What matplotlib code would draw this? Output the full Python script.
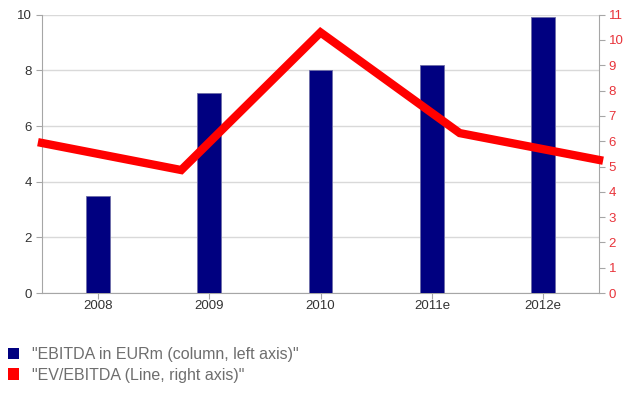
import matplotlib
matplotlib.use("Agg")
import matplotlib.pyplot as plt
from matplotlib.patches import Patch
import numpy as np

plt.rcParams['font.family'] = ['Liberation Sans', 'DejaVu Sans']

categories = ["2008", "2009", "2010", "2011e", "2012e"]
ebitda = [3.5, 7.2, 8.0, 8.2, 9.9]
ev_ebitda = [5.93, 4.86, 10.3, 6.32, 5.26]
left_ticks = [0, 2, 4, 6, 8, 10]
right_ticks = list(range(0, 12))

navy = "#000080"
red = "#FF0000"
gray = "#A6A6A6"

fig = plt.figure(figsize=(6.37, 3.93), dpi=100)
pos = [42/637, 1-293/393, (599-42)/637, (293-14.7)/393]
ax = fig.add_axes(pos)
x = np.arange(len(categories))
ax.bar(x, ebitda, width=0.215, color=navy, edgecolor="#6E6EA8", linewidth=0.6, zorder=3)
ax.set_xlim(-0.5, len(categories)-0.5)
ax.set_ylim(0, 10)
ax.set_yticks(left_ticks)
ax.set_xticks(x)
ax.set_xticklabels(categories)
ax.grid(axis='y', color="#D9D9D9", linewidth=1, zorder=0)
for s in ['top']:
    ax.spines[s].set_visible(False)
for s in ['left', 'bottom', 'right']:
    ax.spines[s].set_color(gray)
ax.tick_params(axis='both', colors=gray, labelcolor="#333333", labelsize=9.5, length=4, width=0.8)
ax.tick_params(axis='x', pad=1)

ax2 = fig.add_axes(pos, frameon=False)
ax2.plot(np.arange(len(ev_ebitda)), ev_ebitda, color=red, linewidth=6, solid_joinstyle='miter', zorder=4, clip_on=False)
ax2.set_xlim(0, len(ev_ebitda)-1)
ax2.set_ylim(0, 11)
ax2.set_yticks(right_ticks)
ax2.set_xticks([])
ax2.yaxis.tick_right()
ax2.tick_params(axis='y', colors=gray, labelcolor="#E8333A", labelsize=9.5, length=4, width=0.8, pad=3)

handles = [Patch(facecolor=navy, edgecolor='none'), Patch(facecolor=red, edgecolor='none')]
labels = ['"EBITDA in EURm (column, left axis)"', '"EV/EBITDA (Line, right axis)"']
fig.legend(handles, labels, loc='upper left', bbox_to_anchor=(0.012, 0.117), frameon=False,
           fontsize=11.5, labelcolor="#6E6E6E", handlelength=0.7, handleheight=0.7,
           handletextpad=0.85, labelspacing=0.35, borderaxespad=0, borderpad=0)

fig.savefig("out.png", dpi=100)
